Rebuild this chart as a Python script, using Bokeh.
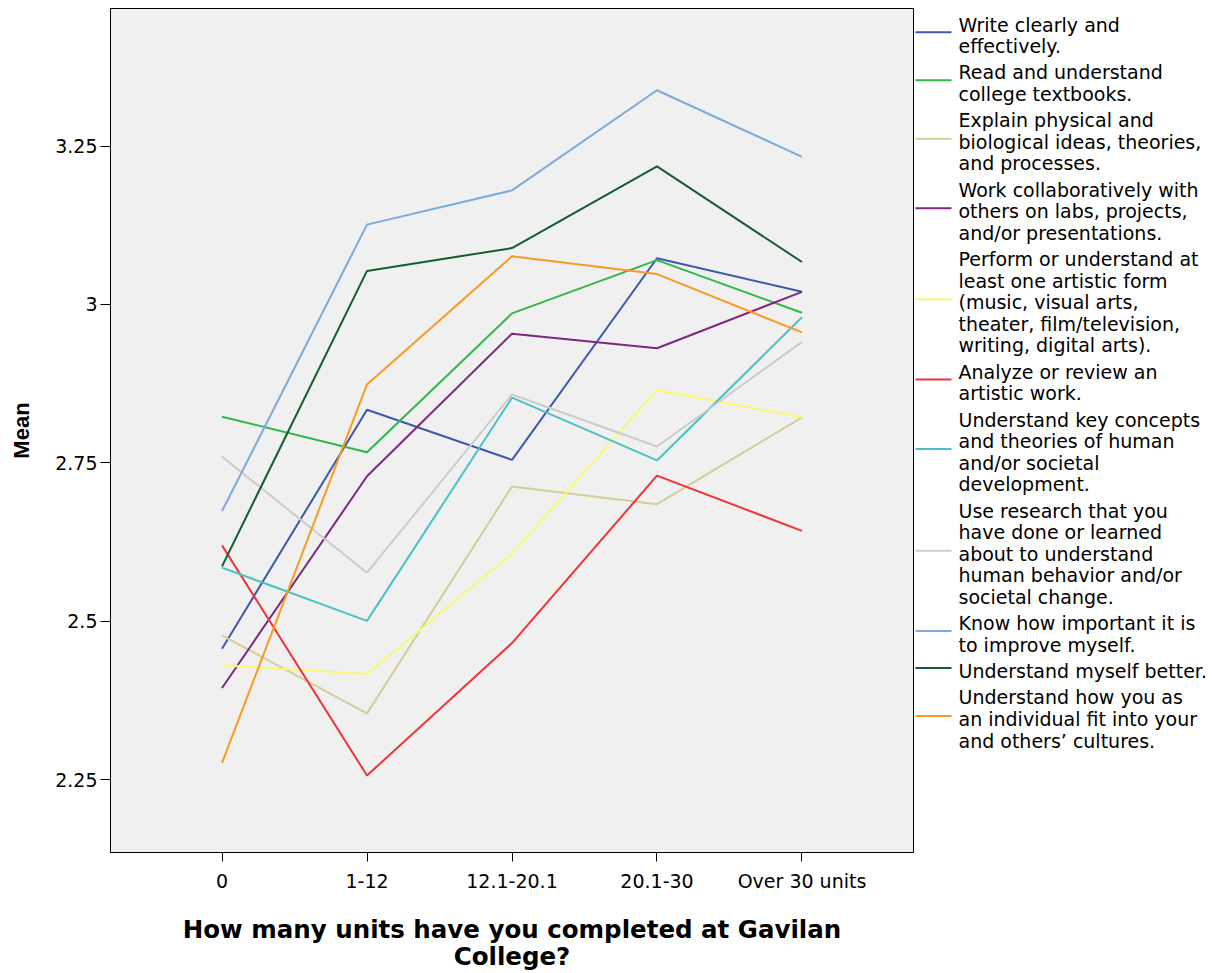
from bokeh.plotting import figure
from bokeh.models import FactorRange, Range1d, FixedTicker
from bokeh.layouts import row
from bokeh.core.properties import value
from bokeh.embed import file_html
from bokeh.resources import INLINE

categories = ["0", "1-12", "12.1-20.1", "20.1-30", "Over 30 units"]

series_names = [
    "Write clearly and\neffectively.",
    "Read and understand\ncollege textbooks.",
    "Explain physical and\nbiological ideas, theories,\nand processes.",
    "Work collaboratively with\nothers on labs, projects,\nand/or presentations.",
    "Perform or understand at\nleast one artistic form\n(music, visual arts,\ntheater, film/television,\nwriting, digital arts).",
    "Analyze or review an\nartistic work.",
    "Understand key concepts\nand theories of human\nand/or societal\ndevelopment.",
    "Use research that you\nhave done or learned\nabout to understand\nhuman behavior and/or\nsocietal change.",
    "Know how important it is\nto improve myself.",
    "Understand myself better.",
    "Understand how you as\nan individual fit into your\nand others\u2019 cultures.",
]

write_clearly = [2.457, 2.834, 2.755, 3.073, 3.020]
read_textbooks = [2.823, 2.767, 2.986, 3.070, 2.987]
explain_physical = [2.478, 2.355, 2.713, 2.685, 2.822]
work_collab = [2.395, 2.729, 2.954, 2.931, 3.020]
perform_art = [2.431, 2.417, 2.607, 2.865, 2.822]
analyze_art = [2.620, 2.257, 2.466, 2.730, 2.643]
key_concepts = [2.585, 2.501, 2.853, 2.754, 2.980]
use_research = [2.760, 2.577, 2.858, 2.776, 2.941]
know_improve = [2.674, 3.126, 3.180, 3.338, 3.233]
understand_self = [2.587, 3.053, 3.089, 3.218, 3.067]
cultures = [2.277, 2.874, 3.076, 3.048, 2.956]

series_values = [write_clearly, read_textbooks, explain_physical, work_collab,
                 perform_art, analyze_art, key_concepts, use_research,
                 know_improve, understand_self, cultures]

colors = ["#3E58AC", "#2EB848", "#D3CE97", "#7C287D", "#FBF873", "#EF3338",
          "#48C2C5", "#CCCCCC", "#7BAADD", "#115E31", "#F99A23"]

y_ticks = [2.25, 2.5, 2.75, 3.0, 3.25]
y_tick_labels = ["2.25", "2.5", "2.75", "3", "3.25"]

FRAME_H = 844

p = figure(
    x_range=FactorRange(factors=categories, range_padding=0.1076, range_padding_units="percent"),
    y_range=Range1d(2.1356, 3.4669),
    frame_width=803, frame_height=FRAME_H,
    min_border_left=110, min_border_right=1, min_border_top=8, min_border_bottom=112,
    output_backend="svg", toolbar_location=None,
)
p.background_fill_color = "#F0F0F0"
p.border_fill_color = "white"
p.outline_line_color = "black"
p.outline_line_width = 1
p.xgrid.visible = False
p.ygrid.visible = False

for vals, col in zip(series_values, colors):
    p.line(x=categories, y=vals, line_color=col, line_width=2)

p.yaxis.ticker = FixedTicker(ticks=y_ticks)
p.yaxis.major_label_overrides = {t: l for t, l in zip(y_ticks, y_tick_labels)}
p.yaxis.minor_tick_line_color = None

for ax in (p.xaxis[0], p.yaxis[0]):
    ax.axis_line_color = "black"
    ax.major_tick_line_color = "black"
    ax.major_tick_in = 0
    ax.major_label_text_font = "DejaVu Sans"
    ax.major_label_text_font_size = "19px"
    ax.major_label_text_color = "black"
    ax.axis_label_text_color = "black"
    ax.axis_label_text_font_style = "bold"

p.yaxis.major_tick_out = 10
p.yaxis.major_label_standoff = 3
p.yaxis.axis_label = "Mean"
p.yaxis.axis_label_text_font = "Liberation Sans"
p.yaxis.axis_label_text_font_size = "22px"
p.yaxis.axis_label_standoff = 18

p.xaxis.major_tick_out = 9
p.xaxis.major_label_standoff = 8
p.xaxis.axis_label = "How many units have you completed at Gavilan\nCollege?"
p.xaxis.axis_label_text_font = "DejaVu Sans"
p.xaxis.axis_label_text_font_size = "24.5px"
p.xaxis.axis_label_text_line_height = 0.95
p.xaxis.axis_label_standoff = 20

# Legend panel (frame aligned with the main plot's frame; y measured in px from frame top)
LEG_W = 295
lg = figure(
    width=LEG_W, frame_height=FRAME_H,
    x_range=Range1d(0, LEG_W), y_range=Range1d(FRAME_H, 0),
    min_border_left=0, min_border_right=0, min_border_top=8, min_border_bottom=112,
    x_axis_location=None, y_axis_location=None,
    output_backend="svg", toolbar_location=None,
)
lg.outline_line_color = None
lg.xgrid.visible = False
lg.ygrid.visible = False
lg.background_fill_color = "white"
lg.border_fill_color = "white"

first_line = 16.0
pitch = 21.6
gap = 4.64
line_x, line_y, line_txt = [], [], []
samp_y = []
cur = first_line
for name in series_names:
    parts = name.split("\n")
    for i, part in enumerate(parts):
        line_x.append(44)
        line_y.append(cur + i * pitch)
        line_txt.append(part)
    samp_y.append(cur + (len(parts) - 1) * pitch / 2 - 3)
    cur += len(parts) * pitch + gap

lg.segment(x0=[1] * len(samp_y), x1=[37] * len(samp_y), y0=samp_y, y1=samp_y,
           line_color=colors, line_width=2)
lg.text(x=line_x, y=line_y, text=line_txt, text_font=value("DejaVu Sans"),
        text_font_size="19px", text_baseline="middle", text_align="left",
        text_color="black")

layout = row(p, lg)
open("out.html", "w").write(file_html(layout, INLINE))
